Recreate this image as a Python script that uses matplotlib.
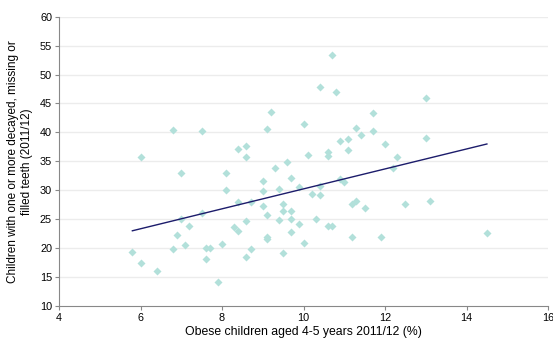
import matplotlib
matplotlib.use('Agg')
import matplotlib.pyplot as plt
import numpy as np

plt.rcParams['font.family'] = ['Liberation Sans', 'DejaVu Sans']

# obese children aged 4-5 (%) vs children with decayed/missing/filled teeth (%)
obese = [5.8, 6.0, 6.0, 6.4, 6.8, 6.8, 6.9, 7.0, 7.0, 7.1,
         7.2, 7.5, 7.5, 7.6, 7.7, 7.6, 7.9, 8.0, 8.1, 8.1,
         8.3, 8.4, 8.4, 8.4, 8.6, 8.6, 8.6, 8.6, 8.7, 8.7,
         9.0, 9.0, 9.0, 9.1, 9.1, 9.1, 9.1, 9.2, 9.3, 9.4,
         9.4, 9.5, 9.5, 9.5, 9.6, 9.7, 9.7, 9.7, 9.7, 9.9,
         9.9, 10.0, 10.0, 10.1, 10.2, 10.3, 10.4, 10.4, 10.4, 10.6,
         10.6, 10.6, 10.7, 10.7, 10.8, 10.9, 10.9, 11.0, 11.1, 11.1,
         11.2, 11.2, 11.3, 11.3, 11.4, 11.5, 11.7, 11.7, 11.9, 12.0,
         12.2, 12.3, 12.5, 13.0, 13.0, 13.1, 14.5]
teeth = [19.3, 17.4, 35.7, 16.1, 19.9, 40.4, 22.2, 25.0, 32.9, 20.6,
         23.9, 26.1, 40.3, 20.0, 20.1, 18.1, 14.2, 20.8, 32.9, 30.0,
         23.7, 28.0, 23.0, 37.2, 37.6, 35.8, 24.7, 18.4, 27.9, 19.8,
         31.6, 29.9, 27.2, 25.8, 22.0, 21.5, 40.6, 43.6, 33.8, 30.3,
         24.9, 27.6, 26.5, 19.2, 34.9, 32.1, 26.5, 25.0, 22.75, 30.5,
         24.1, 41.5, 20.9, 36.1, 29.3, 25.1, 47.8, 30.8, 29.1, 36.6,
         35.9, 23.9, 53.3, 23.8, 47.0, 38.5, 32.0, 31.4, 38.8, 36.9,
         27.7, 21.9, 40.8, 28.2, 39.6, 27.0, 43.4, 40.3, 21.9, 38.0,
         33.8, 35.8, 27.7, 45.9, 39.1, 28.2, 22.6]

# trend line end points
trend_x = [5.8, 14.5]
trend_y = [23.0, 38.0]

fig = plt.figure(figsize=(5.53, 3.43), dpi=100)
ax = fig.add_axes([0.1067, 0.1079, 0.8843, 0.8434])

for yv in range(15, 61, 5):
    ax.axhline(yv, color='#ececec', lw=1, zorder=0)

ax.plot(obese, teeth, 'D', color='#b2e0da', ms=4.2, mec='none', zorder=2)
ax.plot(trend_x, trend_y, color='#1c1c6b', lw=1, zorder=3)

ax.set_xlim(4, 16)
ax.set_ylim(10, 60)
ax.set_xticks(range(4, 17, 2))
ax.set_yticks(range(10, 61, 5))

ax.spines['right'].set_visible(False)
ax.spines['top'].set_visible(False)
ax.spines['left'].set_color('#888888')
ax.spines['bottom'].set_color('#888888')
ax.tick_params(labelsize=7.8, direction='out', length=3, color='#888888', pad=2)

ax.set_xlabel('Obese children aged 4-5 years 2011/12 (%)', fontsize=8.8, labelpad=2)
ax.set_ylabel('Children with one or more decayed, missing or\nfilled teeth (2011/12)', fontsize=8.5, labelpad=5)

plt.savefig('out.png', dpi=100)
